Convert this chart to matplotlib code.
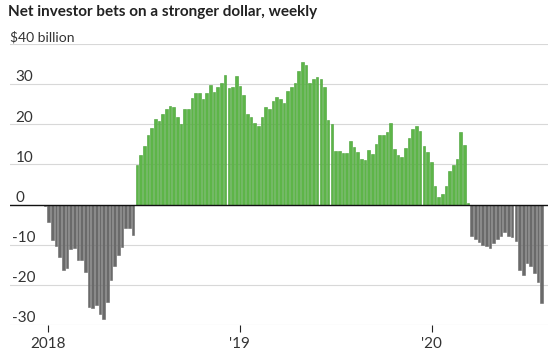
# -*- coding: utf-8 -*-
# Net investor bets on a stronger dollar, weekly (bar chart)

import matplotlib
matplotlib.use('Agg')
import matplotlib.pyplot as plt
import matplotlib.dates as mdates
import matplotlib.transforms as mtransforms
import numpy as np
import pandas as pd

# weekly net positions, $ billion
bets_2018_start = [-0.4, -4.3, -8.9, -10.2, -13.0, -16.4, -15.8, -11.0, -10.8, -13.9,
                   -13.9, -16.8, -25.4, -25.7, -25.0, -27.3, -28.5, -24.2, -18.8, -15.4,
                   -12.5, -10.5, -5.8, -5.8, -7.6]
bets_long = [9.75, 12.25, 14.5, 17.25, 19.0, 21.2, 20.7, 22.5, 23.7, 24.5,
             24.2, 21.75, 20.0, 23.75, 23.75, 26.5, 27.7, 27.9, 26.4, 27.7,
             29.8, 28.1, 29.25, 30.2, 32.2, 29.1, 29.3, 32.0, 29.5, 27.25,
             22.5, 21.75, 20.2, 19.5, 21.75, 24.4, 23.9, 25.9, 26.7, 26.25,
             25.2, 28.2, 29.2, 30.4, 33.3, 35.4, 34.7, 30.2, 31.2, 31.7,
             31.25, 29.25, 21.0, 20.0, 13.3, 13.4, 12.75, 12.75, 15.9, 14.25,
             13.1, 11.4, 11.0, 13.7, 12.5, 15.2, 17.3, 17.3, 18.0, 20.25,
             13.9, 12.25, 11.9, 14.0, 16.7, 18.75, 19.6, 18.3, 14.6, 13.1,
             10.7, 4.7, 1.9, 2.75, 4.6, 8.25, 9.75, 11.25, 18.0, 14.75,
             0.3]
bets_2020_end = [-7.9, -8.6, -9.3, -10.0, -10.4, -10.8, -9.6, -8.6, -7.9, -6.9,
                 -7.75, -8.2, -9.0, -16.25, -17.5, -14.6, -15.4, -17.1, -19.4, -24.6]

first_week = '2017-12-26'
y_ticks = [-30, -20, -10, 0, 10, 20, 30]
y_tick_labels = ['-30', '-20', '-10', '0', '10', '20', '30']
x_tick_dates = ['2018-01-01', '2019-01-01', '2020-01-01']
x_tick_labels = ['2018', "'19", "'20"]

GREEN = '#5db548'
GREEN_EDGE = '#46a035'
GREY = '#6a6a6a'
GRID = '#d8d8d8'
TEXT = '#333333'
FONT = ['Lato', 'DejaVu Sans']


def main():
    values = np.array(bets_2018_start + bets_long + bets_2020_end)
    weeks = pd.date_range(first_week, periods=len(values), freq='7D')

    fig = plt.figure(figsize=(5.59, 3.6), dpi=100)
    ax = fig.add_axes([10 / 559, 35 / 360, 538 / 559, 281 / 360])

    colors = [GREEN if v >= 0 else GREY for v in values]
    edges = [GREEN_EDGE if v >= 0 else GREY for v in values]
    ax.bar(weeks, values, width=5.0, color=colors, edgecolor=edges,
           linewidth=0.4, zorder=3)

    # x range: 2018 tick sits 38 px right of the axes edge, 192 px per year
    x0 = mdates.date2num(pd.Timestamp('2018-01-01'))
    px_per_day = 192 / 365.25
    ax.set_xlim(x0 - 38 / px_per_day, x0 + 500 / px_per_day)
    ax.set_ylim(-30, 40)

    for spine in ax.spines.values():
        spine.set_visible(False)

    # horizontal grid lines with labels sitting on top of them, left aligned
    trans = mtransforms.blended_transform_factory(ax.transAxes, ax.transData)
    offset = mtransforms.ScaledTranslation(0, 2 / 72, fig.dpi_scale_trans)
    for val, lab in zip(y_ticks, y_tick_labels):
        if val == 0:
            ax.axhline(0, color='#111111', linewidth=1.0, zorder=4)
        else:
            ax.axhline(val, color=GRID, linewidth=0.8, zorder=1)
        xpos = 0.004 if val < 0 else 0.01
        ax.text(xpos, val, lab, transform=trans + offset, ha='left', va='baseline',
                fontsize=11, color=TEXT, family=FONT)
    ax.axhline(40, color=GRID, linewidth=0.8, zorder=1)
    ax.text(0.0, 40, '$40 billion', transform=trans + offset, ha='left', va='baseline',
            fontsize=10, color=TEXT, family=FONT)

    ax.set_yticks([])
    ax.set_xticks([mdates.date2num(pd.Timestamp(d)) for d in x_tick_dates])
    ax.set_xticklabels(x_tick_labels, fontsize=11, color=TEXT, family=FONT)
    ax.tick_params(axis='x', length=5, width=0.8, color='#222222', pad=4)

    fig.text(8 / 559, 1 - 5 / 360, 'Net investor bets on a stronger dollar, weekly',
             ha='left', va='top', fontsize=11, fontweight='bold', color='#222222',
             family=FONT)

    fig.savefig('out.png', dpi=100, facecolor='white')
    plt.close(fig)


if __name__ == '__main__':
    main()
